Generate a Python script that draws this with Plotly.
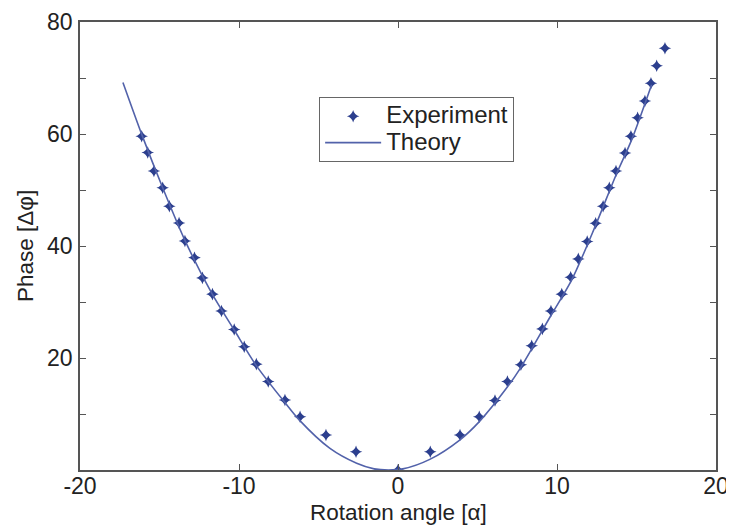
import plotly.graph_objects as go

# Experimental data (rotation angle, phase)
exp_x = [-16.12, -15.74, -15.35, -14.80, -14.38, -13.77, -13.40, -12.80, -12.30, -11.67,
         -11.10, -10.30, -9.67, -8.91, -8.16, -7.11, -6.16, -4.53, -2.64, 0.0,
         2.03, 3.90, 5.11, 6.10, 6.88, 7.73, 8.41, 9.08, 9.62, 10.30,
         10.86, 11.34, 11.90, 12.43, 12.90, 13.29, 13.71, 14.28, 14.65, 15.07,
         15.53, 15.91, 16.27, 16.79]
exp_y = [59.6, 56.7, 53.4, 50.4, 47.1, 44.1, 40.9, 37.9, 34.3, 31.4,
         28.4, 25.1, 22.0, 18.9, 15.8, 12.5, 9.5, 6.25, 3.25, 0.0,
         3.25, 6.25, 9.5, 12.4, 15.8, 18.8, 22.2, 25.2, 28.4, 31.4,
         34.4, 37.7, 40.8, 44.05, 47.1, 50.4, 53.4, 56.6, 59.6, 62.9,
         65.9, 69.05, 72.2, 75.3]

# Theory curve
th_x = [-17.3, -16.1, -14.8, -13.4, -11.7, -10.3, -8.9, -7.1, -6.2, -4.3,
        -2.6, -1.5, -0.6, 0.3, 2.0, 3.9, 5.1, 6.9, 7.7, 9.6,
        10.9, 12.4, 13.7, 14.7, 15.95]
th_y = [69.2, 59.8, 50.4, 41.0, 31.5, 25.0, 18.6, 12.0, 8.9, 3.9,
        1.2, 0.2, 0.0, 0.2, 1.9, 5.4, 8.6, 14.9, 18.2, 27.5,
        33.8, 43.5, 52.6, 59.0, 68.8]

x_ticks = [-20, -10, 0, 10, 20]
y_ticks = [0, 10, 20, 30, 40, 50, 60, 70, 80]
y_ticktext = ["", "", "20", "", "40", "", "60", "", "80"]

FONT = "Liberation Sans, Arial, sans-serif"
AXIS_COLOR = "#555555"
TEXT_COLOR = "#222222"
FS = 23

fig = go.Figure()
fig.add_trace(go.Scatter(
    x=exp_x, y=exp_y, mode="markers",
    name='<span style="font-size:24px">Experiment</span>',
    marker=dict(symbol="star-diamond", size=9, color="#2c3f8e",
                line=dict(width=0)),
))
fig.add_trace(go.Scatter(
    x=th_x, y=th_y, mode="lines",
    name='<span style="font-size:24px">Theory</span>',
    line=dict(color="#5262aa", width=1.6, shape="spline", smoothing=0.8),
))

axis_common = dict(
    showgrid=False, zeroline=False, showline=True, linecolor=AXIS_COLOR,
    linewidth=1.5, mirror="ticks", ticks="inside", ticklen=6,
    tickcolor=AXIS_COLOR, tickwidth=1.2, automargin=False,
    tickfont=dict(family=FONT, size=FS, color=TEXT_COLOR),
)

# The page body has an 8px margin, so the figure is sized 8px smaller.
fig.update_layout(
    width=726, height=517,
    margin=dict(l=72, r=18, t=14, b=55),
    paper_bgcolor="white", plot_bgcolor="white",
    font=dict(family=FONT, color=TEXT_COLOR),
    xaxis=dict(range=[-20, 20], tickvals=x_ticks, ticktext=[str(v) for v in x_ticks],
               ticklabelstandoff=-5, **axis_common),
    yaxis=dict(range=[0, 80], tickvals=y_ticks, ticktext=y_ticktext,
               ticklabelstandoff=1, **axis_common),
    legend=dict(
        x=0.376, y=0.760, xanchor="left", yanchor="middle",
        bgcolor="white", bordercolor="#666666", borderwidth=1,
        font=dict(family=FONT, size=18, color=TEXT_COLOR),
        itemwidth=56, tracegroupgap=0,
    ),
    showlegend=True,
    annotations=[
        dict(text="Rotation angle [α]", xref="paper", yref="paper",
             x=0.5, y=-0.0949, xanchor="center", yanchor="middle", showarrow=False,
             font=dict(family=FONT, size=22.5, color=TEXT_COLOR)),
        dict(text="Phase [Δφ]", xref="paper", yref="paper",
             x=-0.0865, y=0.5, xanchor="center", yanchor="middle", showarrow=False,
             textangle=-90,
             font=dict(family=FONT, size=22.5, color=TEXT_COLOR)),
    ],
)

fig.write_html("out.html")
